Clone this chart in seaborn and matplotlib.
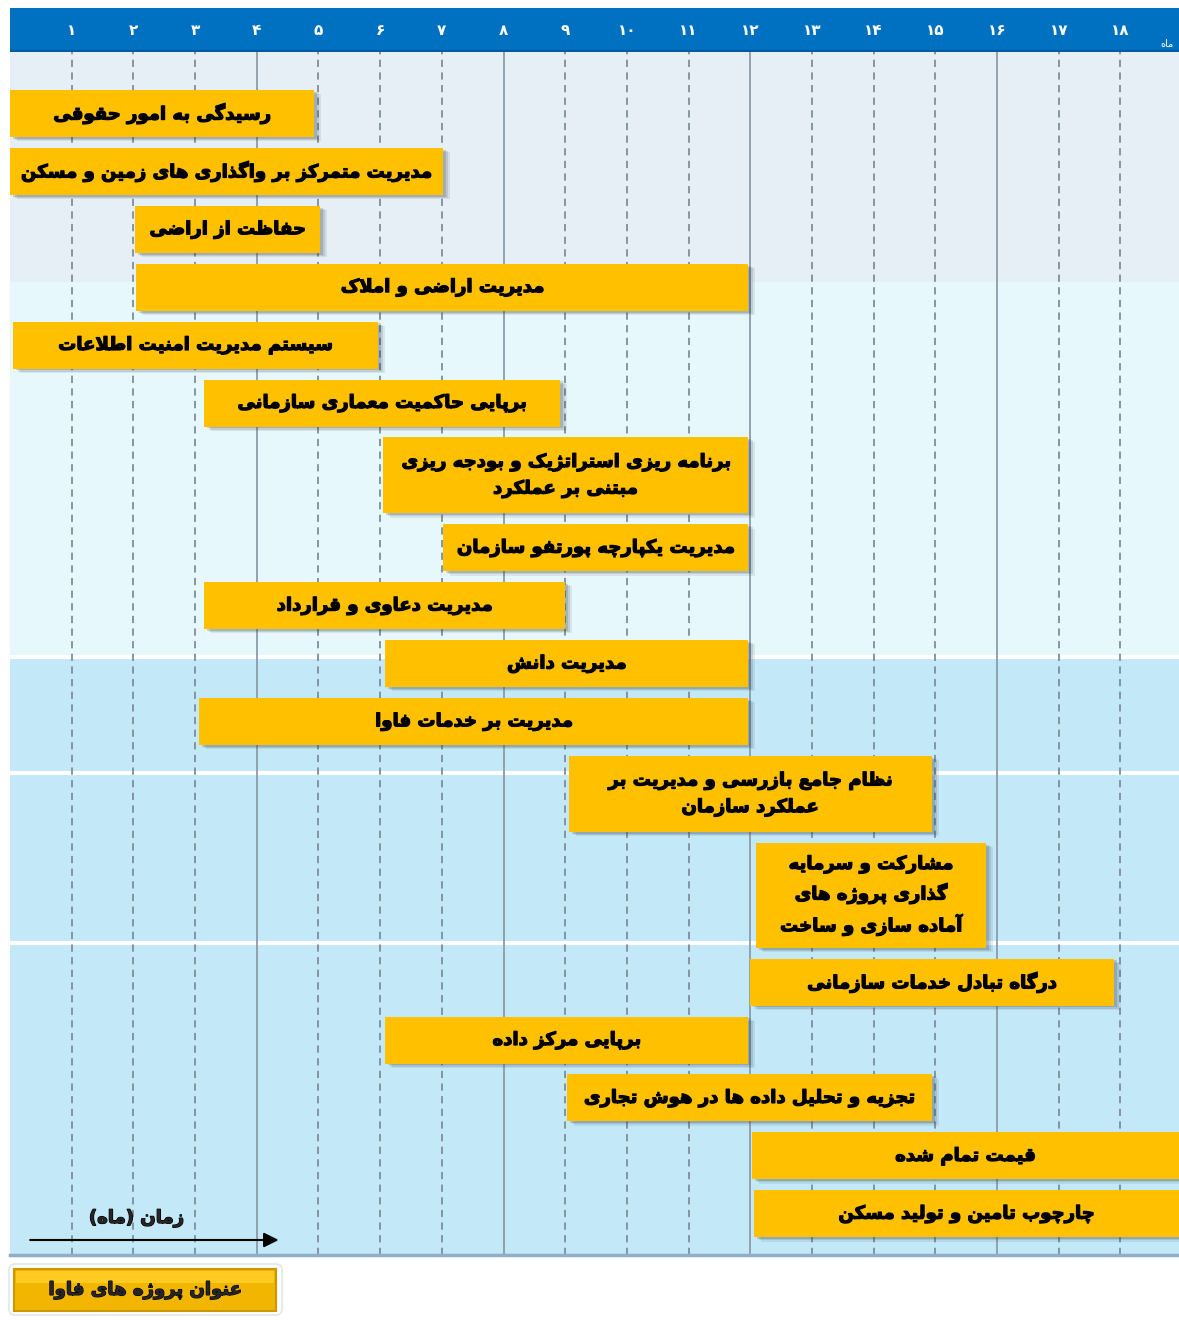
import matplotlib
matplotlib.use("Agg")
import matplotlib.pyplot as plt
import matplotlib.patheffects as pe
import seaborn as sns
from matplotlib.patches import FancyBboxPatch, Rectangle

# project names (one text line per row of the bar), start and end month
projects = [
    "رسیدگی به امور حقوقی",
    "مدیریت متمرکز بر واگذاری های زمین و مسکن",
    "حفاظت از اراضی",
    "مدیریت اراضی و املاک",
    "سیستم مدیریت امنیت اطلاعات",
    "برپایی حاکمیت معماری سازمانی",
    "برنامه ریزی استراتژیک و بودجه ریزی\nمبتنی بر عملکرد",
    "مدیریت یکپارچه پورتفو سازمان",
    "مدیریت دعاوی و قرارداد",
    "مدیریت دانش",
    "مدیریت بر خدمات فاوا",
    "نظام جامع بازرسی و مدیریت بر\nعملکرد سازمان",
    "مشارکت و سرمایه\nگذاری پروژه های\nآماده سازی و ساخت",
    "درگاه تبادل خدمات سازمانی",
    "برپایی مرکز داده",
    "تجزیه و تحلیل داده ها در هوش تجاری",
    "قیمت تمام شده",
    "چارچوب تامین و تولید مسکن",
]
starts = [0, 0, 2.02, 2.05, 0.05, 3.14, 6.05, 7.02, 3.14, 6.08, 3.07, 9.06, 12.09, 12.0, 6.08, 9.03, 12.03, 12.06]
ends = [4.93, 7.02, 5.03, 11.97, 5.97, 8.92, 11.97, 11.97, 9.0, 11.97, 11.97, 14.94, 15.82, 17.89, 11.97, 14.94, 19.5, 19.5]

months = list(range(1, 19))
month_labels = ["۱", "۲", "۳", "۴", "۵", "۶", "۷", "۸", "۹", "۱۰",
                "۱۱", "۱۲", "۱۳", "۱۴", "۱۵", "۱۶", "۱۷", "۱۸"]

# simple persian shaping: presentation forms + right to left order
DUAL = {'ب': 0xFE8F, 'پ': 0xFB56, 'ت': 0xFE95, 'ث': 0xFE99, 'ج': 0xFE9D, 'چ': 0xFB7A,
        'ح': 0xFEA1, 'خ': 0xFEA5, 'س': 0xFEB1, 'ش': 0xFEB5, 'ص': 0xFEB9, 'ض': 0xFEBD,
        'ط': 0xFEC1, 'ظ': 0xFEC5, 'ع': 0xFEC9, 'غ': 0xFECD, 'ف': 0xFED1, 'ق': 0xFED5,
        'ک': 0xFB8E, 'گ': 0xFB92, 'ل': 0xFEDD, 'م': 0xFEE1, 'ن': 0xFEE5, 'ه': 0xFEE9,
        'ی': 0xFBFC, 'ئ': 0xFE89}
RIGHT = {'ا': 0xFE8D, 'آ': 0xFE81, 'د': 0xFEA9, 'ذ': 0xFEAB, 'ر': 0xFEAD, 'ز': 0xFEAF,
         'ژ': 0xFB8A, 'و': 0xFEED}
MIRROR = {'(': ')', ')': '('}


def fa(text):
    out = []
    for line in text.split("\n"):
        res = []
        prev = False
        i = 0
        while i < len(line):
            c = line[i]
            nxt = line[i + 1] if i + 1 < len(line) else ''
            if c == 'ل' and nxt in ('ا', 'آ'):
                lig = 0xFEFB if nxt == 'ا' else 0xFEF5
                res.append(chr(lig + (1 if prev else 0)))
                prev = False
                i += 2
                continue
            if c in DUAL:
                nj = nxt in DUAL or nxt in RIGHT
                base = DUAL[c]
                if prev and nj:
                    res.append(chr(base + 3))
                elif prev:
                    res.append(chr(base + 1))
                elif nj:
                    res.append(chr(base + 2))
                else:
                    res.append(chr(base))
                prev = True
            elif c in RIGHT:
                res.append(chr(RIGHT[c] + (1 if prev else 0)))
                prev = False
            else:
                res.append(MIRROR.get(c, c))
                prev = False
            i += 1
        out.append(''.join(reversed(res)))
    return "\n".join(out)


sns.set_theme(style="white")
plt.rcParams['font.family'] = ['DejaVu Sans']
heavy = [pe.withStroke(linewidth=0.9, foreground='black')]

fig = plt.figure(figsize=(11.79, 13.2), dpi=100)
W, H = 1179, 1320

# main chart area, y in pixel-like units from the top of the grid
ax = fig.add_axes([10 / W, 65 / H, 1 - 10 / W, 1203 / H])
ax.set_xlim(0, 18.95)
ax.set_ylim(1203, 0)

ax.axhspan(0, 230, color='#E5EFF5', zorder=0, lw=0)
ax.axhspan(230, 605, color='#E7F8FD', zorder=0, lw=0)
ax.axhspan(605, 1203, color='#C3E8F8', zorder=0, lw=0)
for yb in [605, 721, 891]:
    ax.axhline(yb, color='white', lw=3, zorder=0.5)

for m in months:
    if m % 4 == 0:
        ax.axvline(m, color='#8C9CA8', lw=1.3, zorder=1)
    else:
        ax.axvline(m, color='#7E8E9A', lw=1.3, ls=(0, (4, 3)), zorder=1)

# row layout from number of text lines
heights = [47 + 29 * (p.count("\n")) for p in projects]
tops = []
y = 38
for h in heights:
    tops.append(y)
    y += h + 10.9
centers = [t + h / 2 for t, h in zip(tops, heights)]
widths = [e - s for s, e in zip(starts, ends)]

px = 1 / 61.76
for k, a in [(7, 0.10), (5, 0.14), (3, 0.2)]:
    ax.barh([c + k * 0.6 for c in centers], widths, left=[s + k * px for s in starts],
            height=heights, color='#3A4650', alpha=a, lw=0, zorder=2)
ax.barh(centers, widths, left=starts, height=heights, color='#FFC000', lw=0, zorder=3)

for p, s, e, c in zip(projects, starts, ends, centers):
    xc = (s + min(e, 18.95)) / 2
    ax.text(xc, c, fa(p), ha='center', va='center', fontsize=13, fontweight='bold',
            color='black', linespacing=1.6, zorder=4, path_effects=heavy)

ax.annotate('', xy=(4.4, 1188), xytext=(0.28, 1188),
            arrowprops=dict(arrowstyle='-|>', color='black', lw=1.5, mutation_scale=22),
            zorder=5)
ax.text(2.05, 1166, fa("زمان (ماه)"), ha='center', va='center', fontsize=13,
        fontweight='bold', zorder=5, path_effects=heavy)

ax.set_xticks([])
ax.set_yticks([])
for sp in ['top', 'left', 'right']:
    ax.spines[sp].set_visible(False)
ax.spines['bottom'].set_color('#8FB0C4')
ax.spines['bottom'].set_linewidth(2.5)

# month header
hax = fig.add_axes([10 / W, (H - 52) / H, 1 - 10 / W, 44 / H], sharex=ax)
hax.set_facecolor('#0070C0')
hax.set_ylim(0, 1)
for m, lab in zip(months, month_labels):
    hax.text(m, 0.48, lab, ha='center', va='center', color='white', fontsize=11,
             fontweight='bold')
hax.text(18.75, 0.18, fa("ماه"), ha='center', va='center', color='white', fontsize=7)
hax.axhline(0.03, color='#005C9E', lw=2.5)
hax.tick_params(left=False, bottom=False, labelleft=False, labelbottom=False)
for sp in hax.spines.values():
    sp.set_visible(False)

# legend box at the bottom
lax = fig.add_axes([0, 0, 290 / W, 62 / H])
lax.set_xlim(0, 290)
lax.set_ylim(62, 0)
lax.axis('off')
lax.add_patch(FancyBboxPatch((9, 6), 273, 51, boxstyle='round,pad=0,rounding_size=6',
                             fc='white', ec='#E2E6EA', lw=1.2))
lax.add_patch(Rectangle((14, 11), 262, 42, fc='#F2B600', ec='#C99700', lw=1.5))
lax.add_patch(Rectangle((16, 13), 258, 12, fc='#FFCB20', lw=0))
lax.text(145, 32, fa("عنوان پروژه های فاوا"), ha='center', va='center', fontsize=13,
         fontweight='bold', path_effects=heavy)

fig.savefig("out.png", dpi=100)
